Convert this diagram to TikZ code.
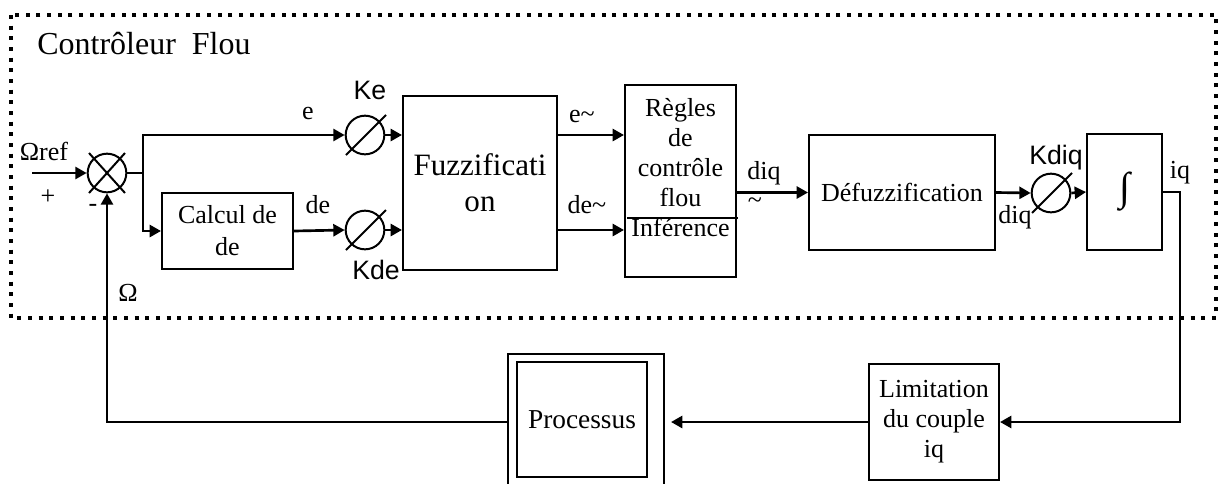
\documentclass[tikz,border=0pt]{standalone}
\usepackage{fontspec}
\setmainfont{Liberation Serif}
\setsansfont{Liberation Sans}
\usetikzlibrary{arrows.meta,positioning,calc}

\tikzset{
  bloc/.style={draw,line width=1.5pt,inner sep=0pt,align=center},
  gain/.style={circle,draw,line width=1.5pt,minimum size=29pt,inner sep=0pt},
  sig/.style={line width=2pt,-{Triangle[length=8.5pt,width=9pt]}},
  wire/.style={line width=2pt},
  klab/.style={font=\sffamily\fontsize{20}{24}\selectfont},
}

\begin{document}
\begin{tikzpicture}[x=0.75pt,y=-0.75pt,font=\fontsize{19.5}{22.5}\selectfont,inner sep=0pt]
\useasboundingbox (0,0) rectangle (1223,483);
% cadre du controleur
\draw[line width=3pt,dash pattern=on 3pt off 5pt] (11,15) rectangle (1216,318);
\node[anchor=west,font=\fontsize{24}{28}\selectfont] (titre) at (37,44) {Contrôleur\ \ Flou};

% comparateur et gains
\node[gain] (somme) at (107,173) {};
\draw[line width=1.5pt] (somme.center) ++(-18,-20) -- ++(36,40)
                        (somme.center) ++(-18,20) -- ++(36,-40);
\node[gain] (ke) at (365,135) {};
\node[gain] (kde) at (365,230) {};
\node[gain] (kdiq) at (1051,193) {};
\foreach \g in {ke,kde,kdiq}
  \draw[line width=1.5pt] (\g.center) ++(-19,20) -- ++(40,-40);

% blocs
\node[bloc,minimum width=98.25pt,minimum height=57pt,font=\fontsize{19.5}{24}\selectfont] (calcul) at (227.5,231) {Calcul de\\de};
\node[bloc,minimum width=115.5pt,minimum height=130.5pt,font=\fontsize{23.3}{27}\selectfont] (fuzz) at (480,183) {Fuzzificati\\on};
\node[bloc,minimum width=83.25pt,minimum height=144pt] (regles) at (680.5,181) {};
\node[align=center] (reglestxt) at (680.5,168) {Règles\\de\\contrôle\\flou\\Inférence};
\draw[line width=1.5pt] (627,218) -- (738,218);
\node[bloc,minimum width=139.5pt,minimum height=86.25pt] (defuzz) at (902,192.5) {Défuzzification};
\node[bloc,minimum width=56.25pt,minimum height=87pt,font=\fontsize{30}{30}\selectfont] (integ) at (1124.5,192) {∫};
\node[bloc,minimum width=97.5pt,minimum height=87pt] (limit) at (934,422) {Limitation\\du couple\\iq};
\node[bloc,minimum width=117pt,minimum height=98.25pt] (procext) at (586,419.5) {};
\node[bloc,minimum width=97.5pt,minimum height=86.25pt,font=\fontsize{20.5}{24}\selectfont] (proc) at (582,419.5) {Processus};

% liaisons
\coordinate (entree) at (32,173);
\coordinate (noeud) at (143,173);
\draw[sig] (entree) -- (somme.west);
\draw[wire] (somme.east) -- (noeud);
\draw[sig] (noeud) |- (ke.west);
\draw[sig] (noeud) |- (calcul.west);
\draw[sig] (ke.east) -- (ke.east -| fuzz.west);
\draw[sig] (calcul.east) -- (kde.west);
\draw[sig] (kde.east) -- (kde.east -| fuzz.west);
\draw[sig] (fuzz.east |- ke) -- (regles.west |- ke);
\draw[sig] (fuzz.east |- kde) -- (regles.west |- kde);
\draw[sig] (regles.east |- defuzz) -- (defuzz.west);
\draw[sig] (defuzz.east) -- (kdiq.west);
\draw[sig] (kdiq.east) -- (integ.west);
\draw[sig] (integ.east) -- ++(17,0) |- (limit.east);
\draw[sig,shorten >=4.5pt] (limit.west) -- (limit.west -| procext.east);
\draw[sig] (limit.west -| procext.west) -| (somme.south);

% etiquettes
\node (omref) at (44,151) {Ωref};
\node (plus) at (48,197) {+};
\node (moins) at (93,208) {-};
\node (le) at (308,113) {e};
\node (lde) at (318,205) {de};
\node[klab] (lke) at (370,90) {Ke};
\node[klab] (lkde) at (376,270) {Kde};
\node (let) at (582,116) {e\textasciitilde};
\node (ldet) at (587,205) {de\textasciitilde};
\node (ldiq) at (764,173) {diq};
\node (ltilde) at (755,203) {\textasciitilde};
\node (ldiqb) at (1015,217) {diq};
\node[klab] (lkdiq) at (1056,158) {Kdiq};
\node (liq) at (1180,173) {iq};
\node (lom) at (128,293) {Ω};
\end{tikzpicture}
\end{document}
